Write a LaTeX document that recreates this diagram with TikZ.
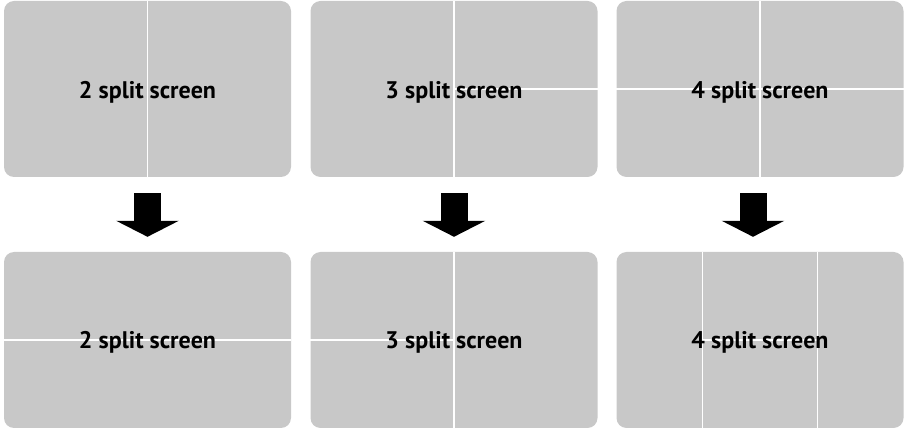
\documentclass[tikz,border=0pt]{standalone}
\usepackage{fontspec}
\setmainfont{PT Sans}
\usetikzlibrary{arrows.meta,calc}
\definecolor{screengray}{RGB}{200,200,200}

\begin{document}
\begin{tikzpicture}[x=1pt, y=-1pt,
  screen/.style={fill=screengray, rounded corners=10pt, minimum width=287pt,
    minimum height=176pt, inner sep=0pt},
  split/.style={draw=white, line width=1.6pt},
  caption/.style={anchor=base, inner sep=0pt, font=\bfseries\fontsize{24}{28}\selectfont},
  bigarrow/.style={line width=27pt, -{Triangle[width=62pt,length=16pt]},
    shorten <=16pt, shorten >=15pt}]
  \useasboundingbox (0,0) rectangle (906,430);

  \node[screen] (t1) at (147.5,89) {};
  \node[screen] (t2) at (454,89) {};
  \node[screen] (t3) at (760,89) {};
  \node[screen] (b1) at (147.5,340) {};
  \node[screen] (b2) at (454,340) {};
  \node[screen] (b3) at (760,340) {};

  \draw[split] (t1.north) -- (t1.south);
  \draw[split] (t2.north) -- (t2.south);
  \draw[split] (t2.center) -- (t2.east);
  \draw[split] (t3.north) -- (t3.south);
  \draw[split] (t3.west) -- (t3.east);
  \draw[split] (b1.west) -- (b1.east);
  \draw[split] (b2.north) -- (b2.south);
  \draw[split] (b2.west) -- (b2.center);
  \foreach \f in {0.3,0.7}
    \draw[split] ($(b3.north west)!\f!(b3.north east)$) -- ($(b3.south west)!\f!(b3.south east)$);
  \draw[split] ($(b3.west)!0.3!(b3.east)$) -- ($(b3.west)!0.7!(b3.east)$);

  \node[caption] (ct1) at ($(t1.center)+(0,10)$) {2 split screen};
  \node[caption] (ct2) at ($(t2.center)+(0,10)$) {3 split screen};
  \node[caption] (ct3) at ($(t3.center)+(0,10)$) {4 split screen};
  \node[caption] (cb1) at ($(b1.center)+(0,9)$) {2 split screen};
  \node[caption] (cb2) at ($(b2.center)+(0,9)$) {3 split screen};
  \node[caption] (cb3) at ($(b3.center)+(0,9)$) {4 split screen};

  \draw[bigarrow] (t1.south) -- (b1.north);
  \draw[bigarrow] (t2.south) -- (b2.north);
  \draw[bigarrow] ([xshift=-7pt]t3.south) -- ([xshift=-7pt]b3.north);
\end{tikzpicture}
\end{document}
